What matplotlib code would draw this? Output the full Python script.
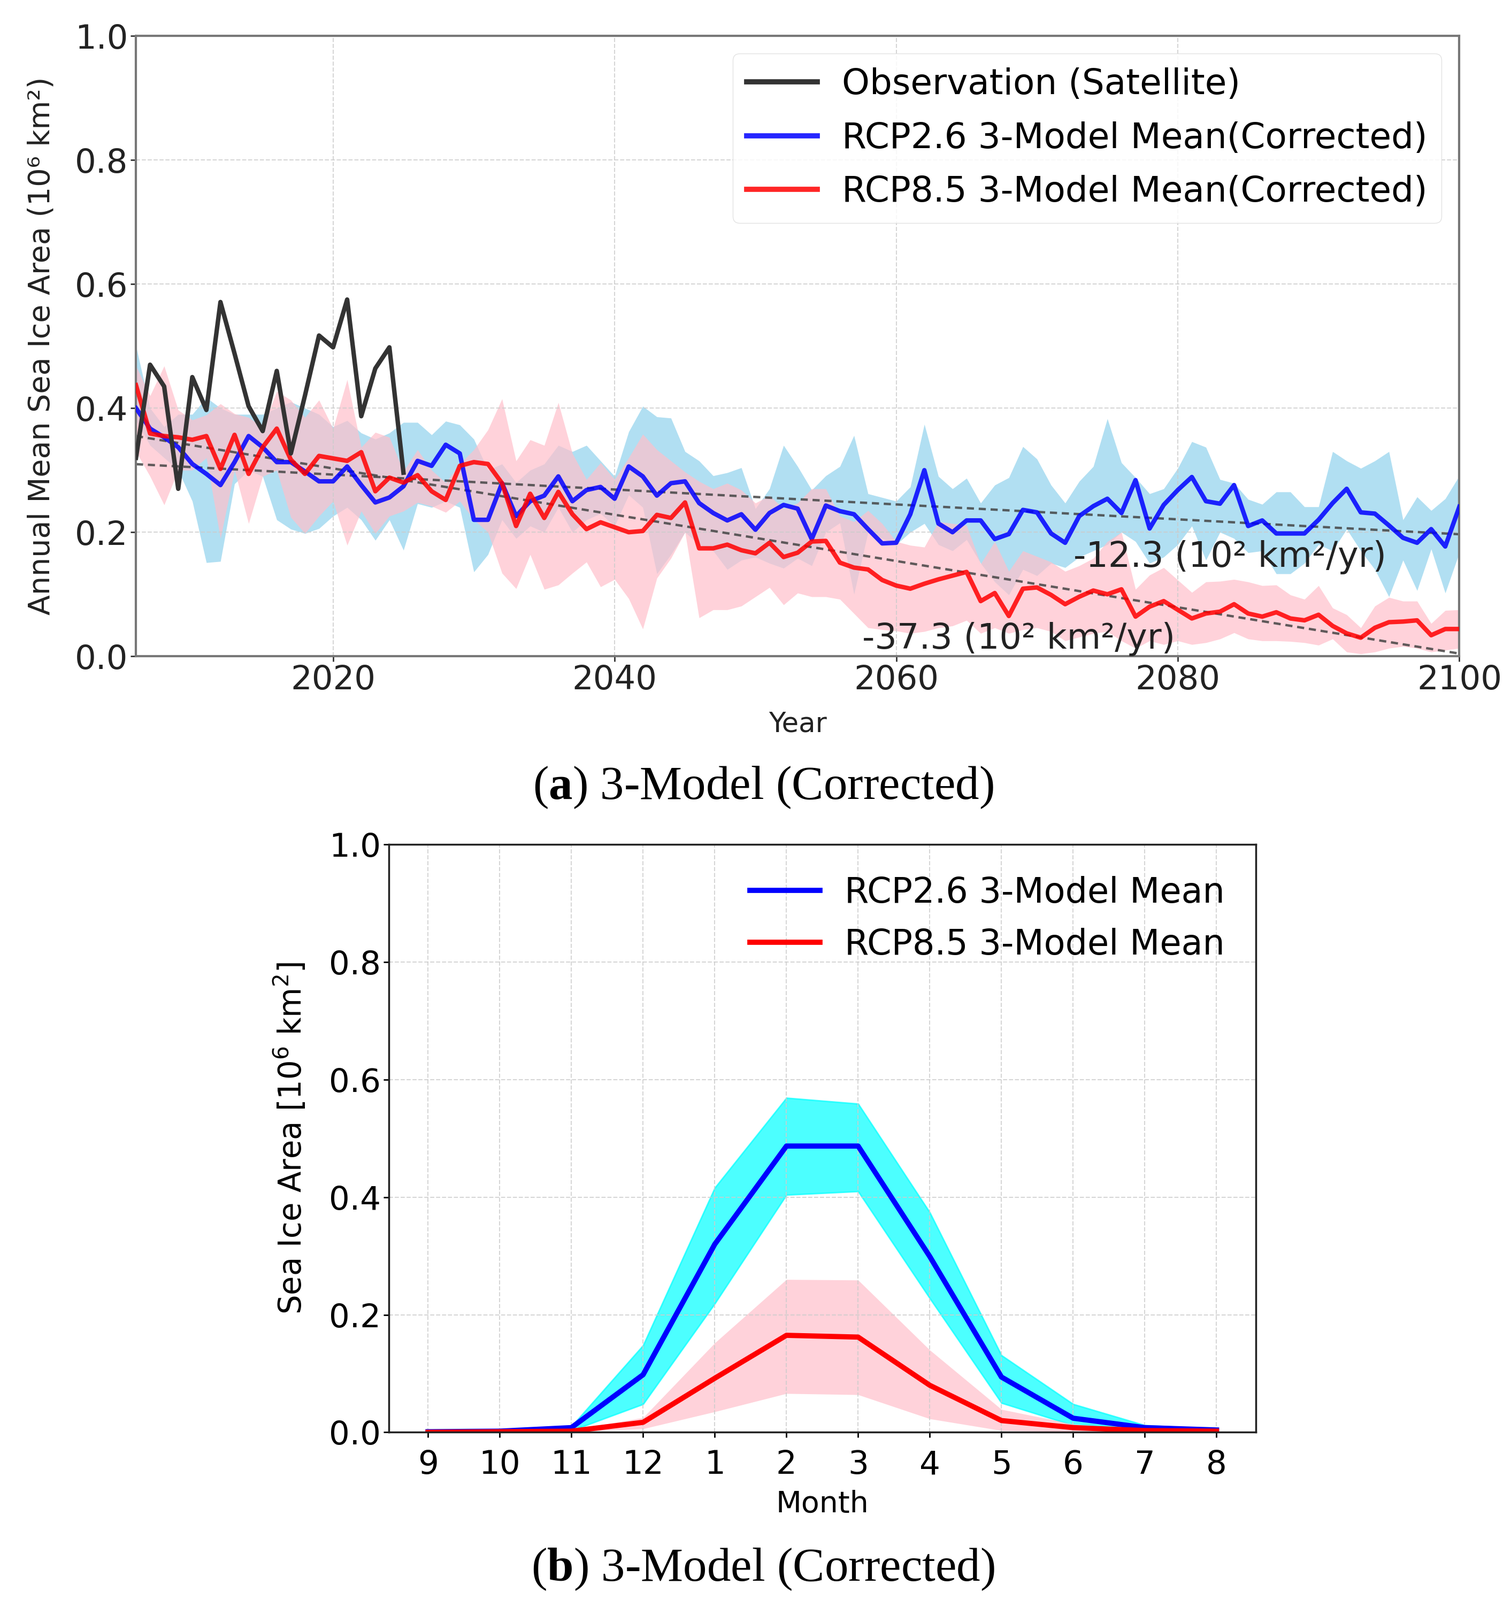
import numpy as np
import matplotlib
matplotlib.use("Agg")
import matplotlib.pyplot as plt

plt.rcParams['font.family'] = ['DejaVu Sans']
plt.rcParams['mathtext.fontset'] = 'custom'
plt.rcParams['mathtext.bf'] = 'Liberation Serif:bold'

# ---------------- Panel (a) data ----------------
years = list(range(2006, 2101))
obs_years = list(range(2006, 2026))
obs = [0.32, 0.47, 0.435, 0.27, 0.45, 0.397, 0.571, 0.488, 0.403, 0.363,
       0.46, 0.327, 0.42, 0.517, 0.498, 0.575, 0.387, 0.464, 0.498, 0.296]

rcp26_mean = [0.40, 0.367, 0.353, 0.337, 0.31, 0.294, 0.276, 0.313, 0.355, 0.337,
              0.313, 0.313, 0.298, 0.282, 0.282, 0.306, 0.276, 0.248, 0.256, 0.274,
              0.315, 0.307, 0.341, 0.327, 0.22, 0.22, 0.279, 0.226, 0.25, 0.259,
              0.29, 0.25, 0.268, 0.273, 0.254, 0.306, 0.29, 0.259, 0.279, 0.282,
              0.247, 0.231, 0.219, 0.229, 0.204, 0.231, 0.244, 0.238, 0.189, 0.243,
              0.234, 0.229, 0.205, 0.182, 0.183, 0.229, 0.30, 0.214, 0.20, 0.219,
              0.219, 0.189, 0.197, 0.236, 0.232, 0.198, 0.183, 0.226, 0.242, 0.254,
              0.231, 0.284, 0.206, 0.244, 0.268, 0.289, 0.25, 0.246, 0.276, 0.21,
              0.219, 0.198, 0.198, 0.198, 0.22, 0.247, 0.27, 0.232, 0.23, 0.211,
              0.191, 0.183, 0.205, 0.177, 0.241]
rcp26_max = [0.50, 0.40, 0.37, 0.39, 0.39, 0.417, 0.40, 0.39, 0.39, 0.39,
             0.40, 0.41, 0.40, 0.39, 0.37, 0.38, 0.36, 0.35, 0.36, 0.377,
             0.377, 0.357, 0.379, 0.373, 0.35, 0.30, 0.31, 0.28, 0.30, 0.31,
             0.34, 0.33, 0.34, 0.315, 0.29, 0.362, 0.403, 0.386, 0.384, 0.33,
             0.315, 0.291, 0.296, 0.304, 0.238, 0.27, 0.34, 0.306, 0.268, 0.291,
             0.306, 0.356, 0.262, 0.256, 0.25, 0.273, 0.374, 0.29, 0.27, 0.287,
             0.247, 0.276, 0.288, 0.338, 0.318, 0.276, 0.247, 0.282, 0.306, 0.383,
             0.312, 0.288, 0.262, 0.27, 0.303, 0.346, 0.337, 0.285, 0.279, 0.253,
             0.245, 0.265, 0.265, 0.241, 0.241, 0.33, 0.315, 0.303, 0.315, 0.33,
             0.22, 0.257, 0.235, 0.254, 0.291]
rcp26_min = [0.38, 0.34, 0.32, 0.30, 0.25, 0.151, 0.153, 0.278, 0.30, 0.29,
             0.22, 0.205, 0.198, 0.206, 0.226, 0.24, 0.22, 0.187, 0.22, 0.171,
             0.246, 0.24, 0.25, 0.24, 0.136, 0.164, 0.22, 0.19, 0.21, 0.20,
             0.24, 0.20, 0.22, 0.23, 0.21, 0.26, 0.24, 0.133, 0.164, 0.20,
             0.18, 0.17, 0.14, 0.155, 0.16, 0.15, 0.142, 0.158, 0.146, 0.20,
             0.215, 0.10, 0.20, 0.19, 0.18, 0.20, 0.214, 0.18, 0.17, 0.188,
             0.15, 0.12, 0.099, 0.14, 0.13, 0.15, 0.143, 0.16, 0.17, 0.18,
             0.20, 0.185, 0.15, 0.16, 0.18, 0.21, 0.155, 0.20, 0.19, 0.167,
             0.17, 0.133, 0.133, 0.15, 0.18, 0.17, 0.205, 0.17, 0.14, 0.096,
             0.155, 0.106, 0.173, 0.102, 0.167]

rcp85_mean = [0.437, 0.359, 0.355, 0.353, 0.349, 0.355, 0.302, 0.357, 0.294, 0.337,
              0.367, 0.317, 0.294, 0.323, 0.319, 0.315, 0.329, 0.266, 0.288, 0.28,
              0.292, 0.266, 0.252, 0.307, 0.313, 0.31, 0.279, 0.21, 0.262, 0.223,
              0.265, 0.229, 0.205, 0.216, 0.208, 0.20, 0.202, 0.228, 0.223, 0.248,
              0.174, 0.174, 0.18, 0.171, 0.166, 0.183, 0.16, 0.167, 0.185, 0.186,
              0.151, 0.143, 0.14, 0.123, 0.114, 0.109, 0.117, 0.124, 0.13, 0.136,
              0.089, 0.102, 0.065, 0.109, 0.111, 0.099, 0.084, 0.096, 0.106, 0.10,
              0.108, 0.064, 0.08, 0.089, 0.075, 0.061, 0.069, 0.072, 0.084, 0.069,
              0.064, 0.071, 0.061, 0.058, 0.067, 0.049, 0.037, 0.03, 0.046, 0.055,
              0.056, 0.058, 0.034, 0.044, 0.044]
rcp85_max = [0.468, 0.42, 0.468, 0.397, 0.381, 0.389, 0.407, 0.391, 0.385, 0.369,
             0.427, 0.413, 0.385, 0.413, 0.367, 0.446, 0.337, 0.361, 0.353, 0.298,
             0.333, 0.30, 0.28, 0.31, 0.333, 0.365, 0.415, 0.315, 0.349, 0.34,
             0.409, 0.327, 0.285, 0.312, 0.285, 0.32, 0.358, 0.333, 0.315, 0.297,
             0.282, 0.27, 0.279, 0.268, 0.247, 0.259, 0.238, 0.247, 0.27, 0.27,
             0.226, 0.217, 0.235, 0.214, 0.185, 0.179, 0.176, 0.217, 0.214, 0.211,
             0.149, 0.185, 0.137, 0.17, 0.161, 0.152, 0.137, 0.146, 0.158, 0.185,
             0.20, 0.108, 0.131, 0.143, 0.123, 0.103, 0.12, 0.121, 0.124, 0.12,
             0.114, 0.115, 0.099, 0.092, 0.114, 0.078, 0.067, 0.046, 0.081, 0.095,
             0.089, 0.089, 0.053, 0.074, 0.075]
rcp85_min = [0.33, 0.29, 0.244, 0.30, 0.30, 0.32, 0.19, 0.30, 0.214, 0.29,
             0.30, 0.224, 0.198, 0.226, 0.25, 0.179, 0.234, 0.198, 0.226, 0.234,
             0.248, 0.242, 0.232, 0.25, 0.22, 0.20, 0.134, 0.109, 0.164, 0.108,
             0.115, 0.134, 0.152, 0.112, 0.124, 0.093, 0.044, 0.126, 0.158, 0.20,
             0.062, 0.075, 0.075, 0.081, 0.096, 0.111, 0.083, 0.102, 0.096, 0.096,
             0.092, 0.069, 0.046, 0.043, 0.041, 0.037, 0.04, 0.046, 0.049, 0.058,
             0.037, 0.046, 0.037, 0.043, 0.046, 0.04, 0.025, 0.031, 0.037, 0.04,
             0.025, 0.013, 0.025, 0.019, 0.025, 0.019, 0.022, 0.028, 0.038, 0.028,
             0.025, 0.025, 0.024, 0.022, 0.018, 0.028, 0.007, 0.004, 0.007, 0.013,
             0.016, 0.013, 0.007, 0.01, 0.013]

trend26_label = "-12.3 (10\u00b2 km\u00b2/yr)"
trend85_label = "-37.3 (10\u00b2 km\u00b2/yr)"

# ---------------- Panel (b) data ----------------
months = ['9', '10', '11', '12', '1', '2', '3', '4', '5', '6', '7', '8']
m26_mean = [0.001, 0.002, 0.008, 0.098, 0.32, 0.487, 0.487, 0.299, 0.094, 0.024, 0.008, 0.004]
m26_max = [0.002, 0.004, 0.010, 0.148, 0.416, 0.569, 0.559, 0.374, 0.131, 0.048, 0.012, 0.006]
m26_min = [0.0, 0.001, 0.003, 0.048, 0.219, 0.404, 0.41, 0.228, 0.05, 0.012, 0.003, 0.001]
m85_mean = [0.0, 0.001, 0.002, 0.017, 0.092, 0.165, 0.162, 0.08, 0.02, 0.008, 0.003, 0.002]
m85_max = [0.001, 0.002, 0.004, 0.025, 0.152, 0.26, 0.259, 0.14, 0.039, 0.014, 0.004, 0.003]
m85_min = [0.0, 0.0, 0.001, 0.006, 0.035, 0.066, 0.064, 0.023, 0.003, 0.001, 0.0, 0.0]

# ---------------- Figure ----------------
fig = plt.figure(figsize=(28.25, 29.92), dpi=100)

# ---- Panel (a)
ax1 = fig.add_axes([0.090, 0.5898, 0.8758, 0.3878])
yrs = np.array(years)
ax1.fill_between(yrs, rcp26_min, rcp26_max, color='skyblue', alpha=0.65, lw=0)
ax1.fill_between(yrs, rcp85_min, rcp85_max, color='pink', alpha=0.7, lw=0)

p26 = np.polyfit(yrs, rcp26_mean, 1)
p85 = np.polyfit(yrs, rcp85_mean, 1)
ax1.plot(yrs, np.polyval(p26, yrs), color='#444444', lw=3.2, ls=(0, (3, 2)), alpha=0.85)
ax1.plot(yrs, np.polyval(p85, yrs), color='#444444', lw=3.2, ls=(0, (3, 2)), alpha=0.85)

l_obs, = ax1.plot(obs_years, obs, color='#333333', lw=6, label='Observation (Satellite)', zorder=5)
l26, = ax1.plot(yrs, rcp26_mean, color='blue', lw=6, label='RCP2.6 3-Model Mean(Corrected)', alpha=0.85, zorder=4)
l85, = ax1.plot(yrs, rcp85_mean, color='red', lw=6, label='RCP8.5 3-Model Mean(Corrected)', alpha=0.85, zorder=4)

ax1.text(2072.6, 0.16, trend26_label, fontsize=47, color='#222222', va='center', ha='left')
ax1.text(2057.6, 0.028, trend85_label, fontsize=47, color='#222222', va='center', ha='left')

ax1.set_xlim(2006, 2100)
ax1.set_ylim(0, 1.0)
ax1.set_xticks([2020, 2040, 2060, 2080, 2100])
ax1.set_yticks([0.0, 0.2, 0.4, 0.6, 0.8, 1.0])
ax1.set_yticklabels(['0.0', '0.2', '0.4', '0.6', '0.8', '1.0'])
ax1.tick_params(labelsize=45, length=7, width=2, colors='#333333', labelcolor='#222222')
ax1.grid(True, linestyle='--', color='#cccccc', lw=1.5, alpha=0.8)
for s in ax1.spines.values():
    s.set_color('#777777')
    s.set_linewidth(3)
ax1.set_xlabel('Year', fontsize=37, color='#222222', labelpad=20)
ax1.set_ylabel('Annual Mean Sea Ice Area (10\u2076 km\u00b2)', fontsize=40, color='#222222', labelpad=26)
leg1 = ax1.legend(handles=[l_obs, l26, l85], loc='upper right', fontsize=47.5,
                  handlelength=2.0, handletextpad=0.7, labelspacing=0.55,
                  framealpha=0.85, edgecolor='#dddddd')
for h in leg1.get_lines():
    h.set_linewidth(7)

fig.text(0.505, 0.508, r'($\mathbf{a}$) 3-Model (Corrected)', ha='center', va='center',
         fontsize=64, family='Liberation Serif')

# ---- Panel (b)
ax2 = fig.add_axes([0.2572, 0.1048, 0.574, 0.3674])
x = np.arange(len(months))
ax2.fill_between(x, m26_min, m26_max, color='cyan', alpha=0.7, lw=2)
ax2.fill_between(x, m85_min, m85_max, color='pink', alpha=0.7, lw=0)
b26, = ax2.plot(x, m26_mean, color='blue', lw=7, label='RCP2.6 3-Model Mean')
b85, = ax2.plot(x, m85_mean, color='red', lw=7, label='RCP8.5 3-Model Mean')
ax2.set_ylim(0, 1.0)
ax2.set_xticks(x)
ax2.set_xticklabels(months)
ax2.set_yticks([0.0, 0.2, 0.4, 0.6, 0.8, 1.0])
ax2.set_yticklabels(['0.0', '0.2', '0.4', '0.6', '0.8', '1.0'])
ax2.tick_params(labelsize=44, length=7, width=2)
ax2.tick_params(axis='x', pad=16)
ax2.grid(True, linestyle='--', color='#cccccc', lw=1.5, alpha=0.8)
for s in ax2.spines.values():
    s.set_color('#222222')
    s.set_linewidth(2.5)
ax2.set_xlabel('Month', fontsize=40, labelpad=12)
ax2.set_ylabel(r'Sea Ice Area [10$^6$ km$^2$]', fontsize=41.5, labelpad=28)
ax2.legend(handles=[b26, b85], loc='upper right', fontsize=47, frameon=False,
           handlelength=2.0, handletextpad=0.7)

fig.text(0.505, 0.0192, r'($\mathbf{b}$) 3-Model (Corrected)', ha='center', va='center',
         fontsize=64, family='Liberation Serif')

fig.savefig('out.png', dpi=100, facecolor='white')
